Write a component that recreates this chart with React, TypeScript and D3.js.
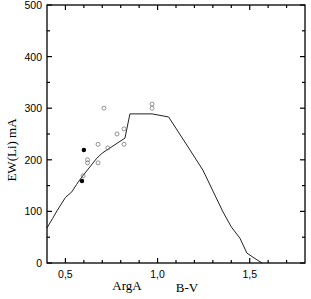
import React from 'react'
import * as d3 from 'd3'

// model curve (B-V, EW(Li))
const curveBV = [0.4, 0.43, 0.454, 0.5, 0.535, 0.56, 0.59, 0.67, 0.70, 0.725, 0.823, 0.85, 0.97, 1.06, 1.176, 1.246, 1.355, 1.40, 1.447, 1.485, 1.54, 1.567]
const curveEW = [68, 86, 101, 127, 138, 152, 167, 203, 213, 219, 242, 289, 289, 283, 219, 180, 99, 70, 48, 19, 6, 0]

// open circles
const openBV = [0.709, 0.97, 0.97, 0.818, 0.78, 0.677, 0.73, 0.818, 0.62, 0.62, 0.677, 0.596]
const openEW = [300, 308, 300, 260, 250, 230, 223, 230, 200, 194, 194, 169]

// filled dots
const fillBV = [0.60, 0.59]
const fillEW = [219, 159]

const xTicks = [0.5, 1.0, 1.5]
const xTickLabels = ['0,5', '1,0', '1,5']
const yTicks = [0, 100, 200, 300, 400, 500]

const W = 311
const H = 299
const M = { left: 47, right: 6, top: 5, bottom: 36 }

export default function App () {
  const x = d3.scaleLinear().domain([0.4, 1.8]).range([M.left, W - M.right])
  const y = d3.scaleLinear().domain([0, 500]).range([H - M.bottom, M.top])

  const line = d3.line<number>()
    .x((d, i) => x(curveBV[i]))
    .y((d, i) => y(curveEW[i]))

  const xMinor = d3.range(0.5, 1.8, 0.1).map(v => +v.toFixed(2))
  const yMinor = d3.range(50, 500, 100)

  const x0 = M.left
  const x1 = W - M.right
  const y0 = H - M.bottom
  const y1 = M.top

  return (
    <svg width={W} height={H} style={{ position: 'absolute', left: 0, top: 0 }}>
      <rect width={W} height={H} fill='#fff' />
      <path d={line(curveEW) || ''} fill='none' stroke='#222' strokeWidth={1} />
      {openBV.map((v, i) => (
        <circle key={'o' + i} cx={x(v)} cy={y(openEW[i])} r={2} fill='none' stroke='#777' strokeWidth={0.8} />
      ))}
      {fillBV.map((v, i) => (
        <circle key={'f' + i} cx={x(v)} cy={y(fillEW[i])} r={2.2} fill='#000' />
      ))}
      <rect x={x0} y={y1} width={x1 - x0} height={y0 - y1} fill='none' stroke='#000' strokeWidth={1.3} />
      {/* x ticks, bottom & top, inward */}
      {xMinor.map(v => {
        const major = xTicks.some(t => Math.abs(t - v) < 1e-6)
        const len = major ? 5 : 3
        return (
          <g key={'xt' + v}>
            <line x1={x(v)} x2={x(v)} y1={y0} y2={y0 - len} stroke='#000' strokeWidth={1.2} />
            <line x1={x(v)} x2={x(v)} y1={y1} y2={y1 + len} stroke='#000' strokeWidth={1.2} />
          </g>
        )
      })}
      {yTicks.concat(yMinor).map(v => {
        const major = yTicks.includes(v)
        const len = major ? 5 : 3
        return (
          <g key={'yt' + v}>
            <line x1={x0} x2={x0 + len} y1={y(v)} y2={y(v)} stroke='#000' strokeWidth={1.2} />
            <line x1={x1} x2={x1 - len} y1={y(v)} y2={y(v)} stroke='#000' strokeWidth={1.2} />
          </g>
        )
      })}
      {xTicks.map((v, i) => (
        <text key={'xl' + v} x={x(v)} y={y0 + 15} textAnchor='middle' fontFamily='Liberation Sans, Arial, sans-serif' fontSize={10.5}>{xTickLabels[i]}</text>
      ))}
      {yTicks.map(v => (
        <text key={'yl' + v} x={x0 - 5} y={y(v) + 4} textAnchor='end' fontFamily='Liberation Sans, Arial, sans-serif' fontSize={10.5}>{v}</text>
      ))}
      <text x={127} y={290} textAnchor='middle' fontFamily='Liberation Serif, Times New Roman, serif' fontSize={13}>ArgA</text>
      <text x={187} y={292} textAnchor='middle' fontFamily='Liberation Serif, Times New Roman, serif' fontSize={13}>B-V</text>
      <text transform={`translate(16,${150}) rotate(-90)`} textAnchor='middle' fontFamily='Liberation Serif, Times New Roman, serif' fontSize={13}>EW(Li) mA</text>
    </svg>
  )
}
